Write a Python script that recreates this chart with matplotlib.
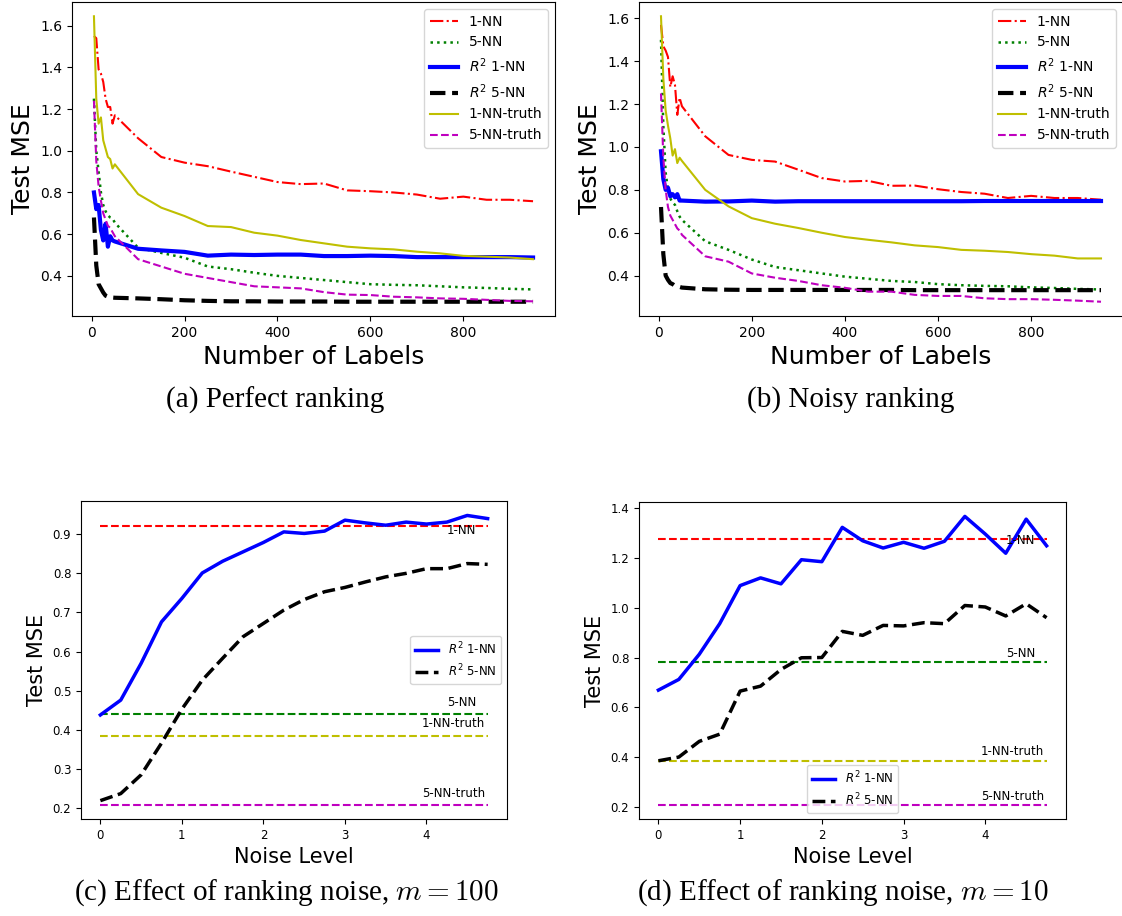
import numpy as np
import matplotlib
matplotlib.use("Agg")
from matplotlib import pyplot as plt

# number of labels (top row)
n_labels = [5, 10, 15, 20, 25, 30, 35, 40, 45, 50,
            100, 150, 200, 250, 300, 350, 400, 450, 500,
            550, 600, 650, 700, 750, 800, 850, 900, 950]

# (a) perfect ranking
a_1nn = [1.55, 1.54, 1.39, 1.37, 1.33, 1.25, 1.21, 1.21, 1.13, 1.17,
         1.06, 0.97, 0.943, 0.926, 0.90, 0.875, 0.85, 0.84, 0.843,
         0.81, 0.806, 0.80, 0.79, 0.77, 0.78, 0.765, 0.765, 0.758]
a_5nn = [1.25, 1.0, 0.9, 0.8, 0.74, 0.71, 0.69, 0.68, 0.675, 0.655,
         0.535, 0.51, 0.487, 0.445, 0.432, 0.415, 0.40, 0.39, 0.38,
         0.37, 0.36, 0.357, 0.355, 0.35, 0.345, 0.342, 0.338, 0.335]
a_r2_1nn = [0.80, 0.72, 0.74, 0.62, 0.57, 0.65, 0.54, 0.59, 0.57, 0.565,
            0.53, 0.522, 0.515, 0.497, 0.502, 0.50, 0.502, 0.502, 0.495,
            0.495, 0.497, 0.495, 0.49, 0.49, 0.49, 0.49, 0.49, 0.488]
a_r2_5nn = [0.68, 0.45, 0.36, 0.34, 0.32, 0.305, 0.30, 0.298, 0.296, 0.295,
            0.292, 0.288, 0.283, 0.28, 0.278, 0.278, 0.277, 0.277, 0.277,
            0.276, 0.276, 0.276, 0.276, 0.276, 0.276, 0.276, 0.276, 0.276]
a_1nn_truth = [1.645, 1.25, 1.13, 1.16, 1.05, 1.01, 0.97, 0.96, 0.915, 0.935,
               0.792, 0.727, 0.687, 0.639, 0.634, 0.607, 0.593, 0.572, 0.556,
               0.54, 0.532, 0.527, 0.516, 0.508, 0.496, 0.492, 0.488, 0.48]
a_5nn_truth = [1.24, 0.95, 0.83, 0.76, 0.70, 0.67, 0.64, 0.63, 0.61, 0.59,
               0.48, 0.445, 0.41, 0.39, 0.37, 0.35, 0.345, 0.34, 0.322,
               0.31, 0.308, 0.30, 0.297, 0.292, 0.29, 0.285, 0.28, 0.278]

# (b) noisy ranking
b_1nn = [1.57, 1.47, 1.45, 1.42, 1.28, 1.33, 1.29, 1.15, 1.23, 1.19,
         1.05, 0.963, 0.94, 0.932, 0.894, 0.855, 0.839, 0.842, 0.819,
         0.82, 0.803, 0.79, 0.782, 0.762, 0.772, 0.762, 0.762, 0.754]
b_5nn = [1.5, 1.1, 0.88, 0.80, 0.76, 0.74, 0.73, 0.70, 0.675, 0.66,
         0.56, 0.52, 0.475, 0.44, 0.425, 0.41, 0.395, 0.385, 0.375,
         0.37, 0.36, 0.355, 0.352, 0.35, 0.345, 0.342, 0.338, 0.335]
b_r2_1nn = [0.98, 0.85, 0.80, 0.81, 0.77, 0.78, 0.765, 0.78, 0.75, 0.75,
            0.745, 0.746, 0.75, 0.745, 0.747, 0.747, 0.747, 0.747, 0.747,
            0.747, 0.747, 0.747, 0.748, 0.748, 0.748, 0.748, 0.748, 0.748]
b_r2_5nn = [0.72, 0.50, 0.40, 0.38, 0.365, 0.36, 0.352, 0.35, 0.347, 0.344,
            0.336, 0.334, 0.333, 0.333, 0.333, 0.333, 0.333, 0.333, 0.333,
            0.332, 0.332, 0.332, 0.332, 0.332, 0.332, 0.332, 0.332, 0.332]
b_1nn_truth = [1.61, 1.32, 1.17, 1.10, 1.04, 0.96, 0.99, 0.925, 0.95, 0.935,
               0.80, 0.723, 0.668, 0.642, 0.622, 0.60, 0.58, 0.567, 0.555,
               0.541, 0.533, 0.52, 0.516, 0.51, 0.50, 0.493, 0.48, 0.48]
b_5nn_truth = [1.25, 0.95, 0.80, 0.72, 0.68, 0.66, 0.64, 0.62, 0.61, 0.59,
               0.49, 0.465, 0.41, 0.39, 0.375, 0.355, 0.343, 0.325, 0.325,
               0.31, 0.305, 0.305, 0.294, 0.29, 0.29, 0.287, 0.283, 0.278]

# noise level (bottom row)
noise = [0.0, 0.25, 0.5, 0.75, 1.0, 1.25, 1.5, 1.75, 2.0, 2.25,
         2.5, 2.75, 3.0, 3.25, 3.5, 3.75, 4.0, 4.25, 4.5, 4.75]

# (c) m = 100
c_r2_1nn = [0.438, 0.476, 0.57, 0.676, 0.736, 0.801, 0.831, 0.855, 0.879, 0.906,
            0.902, 0.908, 0.936, 0.929, 0.923, 0.931, 0.926, 0.931, 0.948, 0.94]
c_r2_5nn = [0.219, 0.237, 0.285, 0.366, 0.453, 0.527, 0.583, 0.638, 0.672, 0.706,
            0.733, 0.753, 0.764, 0.778, 0.791, 0.80, 0.812, 0.812, 0.825, 0.823]
c_base = [0.921, 0.44, 0.385, 0.209]

# (d) m = 10
d_r2_1nn = [0.669, 0.712, 0.813, 0.936, 1.089, 1.12, 1.096, 1.193, 1.185, 1.323,
            1.269, 1.24, 1.263, 1.239, 1.267, 1.367, 1.296, 1.219, 1.356, 1.249]
d_r2_5nn = [0.385, 0.40, 0.463, 0.492, 0.665, 0.685, 0.752, 0.799, 0.80, 0.905,
            0.889, 0.929, 0.927, 0.94, 0.936, 1.009, 1.003, 0.967, 1.016, 0.96]
d_base = [1.278, 0.78, 0.385, 0.209]

base_names = ['1-NN', '5-NN', '1-NN-truth', '5-NN-truth']
base_colors = ['r', 'g', 'y', 'm']

W, H = 1122, 916
fig = plt.figure(figsize=(W / 100, H / 100), dpi=100)

def rect(l, r, t, b):
    return [l / W, (H - b) / H, (r - l) / W, (b - t) / H]

def top_panel(ax, d):
    ax.plot(n_labels, d[0], 'r-.', lw=1.5, label='1-NN')
    ax.plot(n_labels, d[1], 'g:', lw=1.8, label='5-NN')
    ax.plot(n_labels, d[2], 'b-', lw=3, label='$R^2$ 1-NN')
    ax.plot(n_labels, d[3], 'k--', lw=3, label='$R^2$ 5-NN')
    ax.plot(n_labels, d[4], 'y-', lw=1.5, label='1-NN-truth')
    ax.plot(n_labels, d[5], 'm--', lw=1.5, label='5-NN-truth')
    ax.set_xticks([0, 200, 400, 600, 800])
    ax.set_yticks([0.4, 0.6, 0.8, 1.0, 1.2, 1.4, 1.6])
    ax.tick_params(labelsize=10)
    ax.set_xlabel('Number of Labels', fontsize=18)
    ax.set_ylabel('Test MSE', fontsize=18)
    ax.legend(loc='upper right', fontsize=10)

def bottom_panel(ax, r1, r5, base, offs, leg_loc):
    for val, name, col, dy, xp in zip(base, base_names, base_colors, offs,
                                      [4.43, 4.43, 4.33, 4.33]):
        ax.plot([noise[0], noise[-1]], [val, val], '--', color=col, lw=1.5)
        ax.annotate(name, xy=(xp, val), xytext=(0, dy), textcoords='offset pixels',
                    ha='center', va='center', fontsize=8.5)
    ax.plot(noise, r1, 'b-', lw=2.5, label='$R^2$ 1-NN')
    ax.plot(noise, r5, 'k--', lw=2.5, label='$R^2$ 5-NN')
    ax.set_xticks([0, 1, 2, 3, 4])
    ax.tick_params(labelsize=8.5)
    ax.set_xlabel('Noise Level', fontsize=15)
    ax.set_ylabel('Test MSE', fontsize=15)
    ax.legend(loc=leg_loc, fontsize=8.5)

ax1 = fig.add_axes(rect(72, 555, 2, 316))
top_panel(ax1, [a_1nn, a_5nn, a_r2_1nn, a_r2_5nn, a_1nn_truth, a_5nn_truth])

ax2 = fig.add_axes(rect(639, 1123, 2, 316))
top_panel(ax2, [b_1nn, b_5nn, b_r2_1nn, b_r2_5nn, b_1nn_truth, b_5nn_truth])

ax3 = fig.add_axes(rect(81, 507, 501, 819))
bottom_panel(ax3, c_r2_1nn, c_r2_5nn, c_base, [-4, 12, 12, 11], 'center right')

ax4 = fig.add_axes(rect(639, 1066, 502, 819))
bottom_panel(ax4, d_r2_1nn, d_r2_5nn, d_base, [-1.5, 9, 9, 8.5], 'lower center')

# captions in a serif face, math in computer modern
cap = dict(ha='center', va='center', fontsize=21, family='Liberation Serif',
           math_fontfamily='cm')
fig.text(275 / W, 1 - 400 / H, '(a) Perfect ranking', **cap)
fig.text(851 / W, 1 - 400 / H, '(b) Noisy ranking', **cap)
fig.text(286 / W, 1 - 893 / H, '(c) Effect of ranking noise, $m = 100$', **cap)
fig.text(843 / W, 1 - 893 / H, '(d) Effect of ranking noise, $m = 10$', **cap)

fig.savefig('out.png', dpi=100)
